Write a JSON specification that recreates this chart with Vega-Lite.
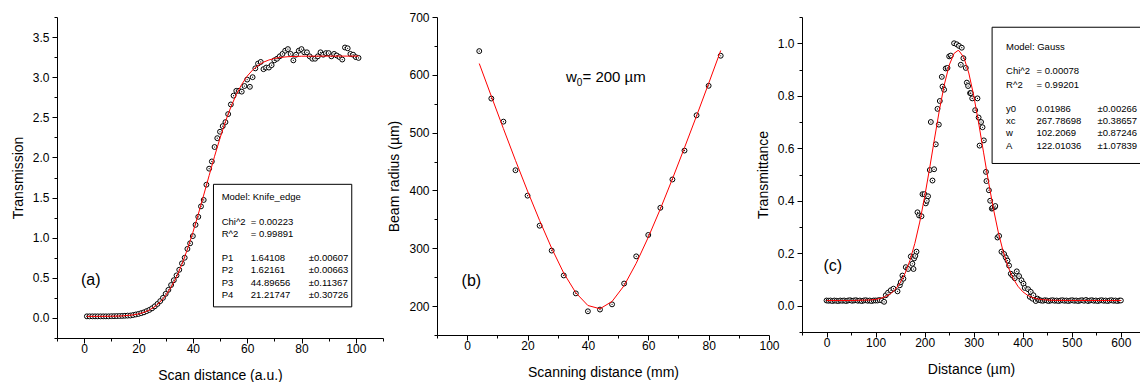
{
"$schema": "https://vega.github.io/schema/vega-lite/v6.json",
"padding": {"left": 11, "top": 11, "right": 0, "bottom": 0},
"bounds": "flush",
"spacing": 54,
"datasets": {
"knife": [{"x":1,"y":0.02},{"x":2,"y":0.02},{"x":3,"y":0.02},{"x":4,"y":0.02},{"x":5,"y":0.02},{"x":6,"y":0.02},{"x":7,"y":0.02},{"x":8,"y":0.02},{"x":9,"y":0.02},{"x":10,"y":0.022},{"x":11,"y":0.022},{"x":12,"y":0.023},{"x":13,"y":0.024},{"x":14,"y":0.025},{"x":15,"y":0.027},{"x":16,"y":0.029},{"x":17,"y":0.03},{"x":18,"y":0.036},{"x":19,"y":0.043},{"x":20,"y":0.05},{"x":21,"y":0.06},{"x":22,"y":0.07},{"x":23,"y":0.085},{"x":24,"y":0.1},{"x":25,"y":0.12},{"x":26,"y":0.145},{"x":27,"y":0.175},{"x":28,"y":0.21},{"x":29,"y":0.25},{"x":30,"y":0.3},{"x":31,"y":0.35},{"x":32,"y":0.41},{"x":33,"y":0.47},{"x":34,"y":0.53},{"x":35,"y":0.6},{"x":36,"y":0.68},{"x":37,"y":0.75},{"x":38,"y":0.86},{"x":39,"y":0.93},{"x":40,"y":1.02},{"x":41,"y":1.16},{"x":42,"y":1.26},{"x":43,"y":1.39},{"x":44,"y":1.47},{"x":45,"y":1.66},{"x":46,"y":1.86},{"x":47,"y":1.95},{"x":48,"y":2.13},{"x":49,"y":2.24},{"x":50,"y":2.32},{"x":51,"y":2.39},{"x":52,"y":2.44},{"x":53,"y":2.54},{"x":54,"y":2.66},{"x":55,"y":2.77},{"x":56,"y":2.83},{"x":57,"y":2.83},{"x":58,"y":2.82},{"x":59,"y":2.89},{"x":60,"y":2.97},{"x":61,"y":2.88},{"x":62,"y":3.0},{"x":63,"y":3.11},{"x":64,"y":3.17},{"x":65,"y":3.19},{"x":66,"y":3.1},{"x":67,"y":3.12},{"x":68,"y":3.12},{"x":69,"y":3.15},{"x":70,"y":3.21},{"x":71,"y":3.23},{"x":72,"y":3.26},{"x":73,"y":3.29},{"x":74,"y":3.33},{"x":75,"y":3.35},{"x":76,"y":3.29},{"x":77,"y":3.21},{"x":78,"y":3.28},{"x":79,"y":3.33},{"x":80,"y":3.35},{"x":81,"y":3.31},{"x":82,"y":3.31},{"x":83,"y":3.26},{"x":84,"y":3.23},{"x":85,"y":3.23},{"x":86,"y":3.26},{"x":87,"y":3.31},{"x":88,"y":3.28},{"x":89,"y":3.3},{"x":90,"y":3.3},{"x":91,"y":3.26},{"x":92,"y":3.29},{"x":93,"y":3.27},{"x":94,"y":3.25},{"x":95,"y":3.22},{"x":96,"y":3.37},{"x":97,"y":3.36},{"x":98,"y":3.29},{"x":99,"y":3.28},{"x":100,"y":3.25},{"x":101,"y":3.24}],
"knifeFit": [{"x":1,"y":0.0195},{"x":5,"y":0.0197},{"x":10,"y":0.0212},{"x":14,"y":0.0251},{"x":18,"y":0.0376},{"x":20,"y":0.0501},{"x":22,"y":0.069},{"x":24,"y":0.0985},{"x":26,"y":0.1406},{"x":28,"y":0.1993},{"x":30,"y":0.279},{"x":32,"y":0.3825},{"x":34,"y":0.5115},{"x":36,"y":0.6706},{"x":38,"y":0.855},{"x":40,"y":1.0635},{"x":42,"y":1.292},{"x":44,"y":1.531},{"x":46,"y":1.7743},{"x":48,"y":2.0145},{"x":50,"y":2.24},{"x":52,"y":2.4463},{"x":54,"y":2.6282},{"x":56,"y":2.7838},{"x":58,"y":2.9104},{"x":60,"y":3.0127},{"x":62,"y":3.0893},{"x":64,"y":3.1459},{"x":66,"y":3.187},{"x":68,"y":3.2143},{"x":70,"y":3.233},{"x":72,"y":3.2454},{"x":75,"y":3.2553},{"x":80,"y":3.2611},{"x":85,"y":3.2624},{"x":90,"y":3.2627},{"x":101,"y":3.2627}],
"beam": [{"x":4,"y":641},{"x":8,"y":559},{"x":12,"y":519},{"x":16,"y":435},{"x":20,"y":391},{"x":24,"y":339},{"x":28,"y":296},{"x":32,"y":253},{"x":36,"y":222},{"x":40,"y":191},{"x":44,"y":194},{"x":48,"y":203},{"x":52,"y":239},{"x":56,"y":286},{"x":60,"y":323},{"x":64,"y":370},{"x":68,"y":419},{"x":72,"y":469},{"x":76,"y":530},{"x":80,"y":581},{"x":84,"y":633}],
"beamFit": [{"x":4,"y":619.5},{"x":8,"y":563},{"x":12,"y":507},{"x":16,"y":452},{"x":20,"y":399},{"x":24,"y":348},{"x":28,"y":300},{"x":32,"y":257},{"x":36,"y":223},{"x":40,"y":201},{"x":44,"y":195.4},{"x":48,"y":208},{"x":52,"y":235.5},{"x":56,"y":274},{"x":60,"y":319},{"x":64,"y":368},{"x":68,"y":420},{"x":72,"y":474},{"x":76,"y":529},{"x":80,"y":585},{"x":84,"y":642}],
"gauss": [{"x":0,"y":0.02},{"x":4,"y":0.019},{"x":8,"y":0.02},{"x":12,"y":0.018},{"x":16,"y":0.02},{"x":20,"y":0.019},{"x":24,"y":0.018},{"x":28,"y":0.02},{"x":32,"y":0.019},{"x":36,"y":0.02},{"x":40,"y":0.018},{"x":44,"y":0.02},{"x":48,"y":0.021},{"x":52,"y":0.019},{"x":56,"y":0.02},{"x":60,"y":0.021},{"x":64,"y":0.019},{"x":68,"y":0.02},{"x":72,"y":0.018},{"x":76,"y":0.02},{"x":80,"y":0.021},{"x":84,"y":0.019},{"x":88,"y":0.02},{"x":92,"y":0.018},{"x":96,"y":0.02},{"x":100,"y":0.02},{"x":104,"y":0.02},{"x":108,"y":0.022},{"x":113,"y":0.02},{"x":117.4,"y":0.015},{"x":120.8,"y":0.04},{"x":125.5,"y":0.05},{"x":131,"y":0.059},{"x":136.5,"y":0.065},{"x":144.7,"y":0.055},{"x":149.4,"y":0.078},{"x":151.4,"y":0.09},{"x":154.7,"y":0.115},{"x":156.7,"y":0.103},{"x":161.6,"y":0.147},{"x":166.3,"y":0.14},{"x":171.8,"y":0.188},{"x":175,"y":0.16},{"x":177.3,"y":0.14},{"x":178.5,"y":0.18},{"x":181,"y":0.19},{"x":183.4,"y":0.206},{"x":185.4,"y":0.356},{"x":188.7,"y":0.344},{"x":193.6,"y":0.341},{"x":195.6,"y":0.425},{"x":199.6,"y":0.425},{"x":202.4,"y":0.39},{"x":204.4,"y":0.4},{"x":207,"y":0.417},{"x":210.5,"y":0.517},{"x":212.6,"y":0.7},{"x":216,"y":0.477},{"x":219.3,"y":0.52},{"x":222.7,"y":0.615},{"x":226.2,"y":0.75},{"x":228.9,"y":0.69},{"x":230.9,"y":0.78},{"x":235,"y":0.872},{"x":236.4,"y":0.835},{"x":239.7,"y":0.823},{"x":243,"y":0.904},{"x":246.6,"y":0.906},{"x":250,"y":0.95},{"x":253.3,"y":0.953},{"x":260,"y":1.0},{"x":265.5,"y":0.996},{"x":270,"y":0.99},{"x":273.7,"y":0.918},{"x":275.7,"y":0.983},{"x":279,"y":0.943},{"x":283.9,"y":0.906},{"x":286,"y":0.85},{"x":288.6,"y":0.837},{"x":292.6,"y":0.81},{"x":294,"y":0.81},{"x":297,"y":0.79},{"x":303,"y":0.745},{"x":307.7,"y":0.79},{"x":310,"y":0.717},{"x":312,"y":0.61},{"x":315,"y":0.7},{"x":318,"y":0.68},{"x":320.7,"y":0.63},{"x":325,"y":0.51},{"x":326,"y":0.475},{"x":331,"y":0.44},{"x":333.6,"y":0.4},{"x":337,"y":0.37},{"x":338.3,"y":0.373},{"x":343,"y":0.376},{"x":344,"y":0.38},{"x":348.5,"y":0.26},{"x":351.8,"y":0.266},{"x":356.6,"y":0.206},{"x":362,"y":0.197},{"x":365.4,"y":0.184},{"x":368.9,"y":0.172},{"x":372.1,"y":0.153},{"x":375.6,"y":0.122},{"x":379,"y":0.115},{"x":383.7,"y":0.105},{"x":387.8,"y":0.131},{"x":392.5,"y":0.113},{"x":397.4,"y":0.097},{"x":401.5,"y":0.084},{"x":404.1,"y":0.068},{"x":410.9,"y":0.063},{"x":414.3,"y":0.034},{"x":416.3,"y":0.053},{"x":419.8,"y":0.027},{"x":421.8,"y":0.04},{"x":426.5,"y":0.018},{"x":430,"y":0.027},{"x":433.3,"y":0.022},{"x":437,"y":0.02},{"x":441,"y":0.019},{"x":445,"y":0.021},{"x":449,"y":0.02},{"x":453,"y":0.018},{"x":457,"y":0.02},{"x":461,"y":0.021},{"x":465,"y":0.019},{"x":469,"y":0.02},{"x":473,"y":0.018},{"x":477,"y":0.02},{"x":481,"y":0.021},{"x":485,"y":0.019},{"x":489,"y":0.02},{"x":493,"y":0.018},{"x":497,"y":0.02},{"x":501,"y":0.021},{"x":505,"y":0.019},{"x":509,"y":0.02},{"x":513,"y":0.018},{"x":517,"y":0.02},{"x":521,"y":0.021},{"x":525,"y":0.019},{"x":529,"y":0.022},{"x":533,"y":0.018},{"x":537,"y":0.02},{"x":541,"y":0.021},{"x":545,"y":0.019},{"x":549,"y":0.02},{"x":553,"y":0.018},{"x":557,"y":0.02},{"x":561,"y":0.021},{"x":565,"y":0.019},{"x":569,"y":0.02},{"x":573,"y":0.018},{"x":577,"y":0.02},{"x":581,"y":0.021},{"x":585,"y":0.019},{"x":589,"y":0.02},{"x":593,"y":0.018},{"x":597,"y":0.02},{"x":600,"y":0.02}],
"gaussFit": [{"x":0,"y":0.0199},{"x":50,"y":0.0199},{"x":90,"y":0.0221},{"x":100,"y":0.0242},{"x":110,"y":0.028},{"x":120,"y":0.0345},{"x":130,"y":0.045},{"x":140,"y":0.0617},{"x":150,"y":0.0868},{"x":160,"y":0.1229},{"x":170,"y":0.1725},{"x":180,"y":0.2376},{"x":190,"y":0.3188},{"x":200,"y":0.415},{"x":210,"y":0.5223},{"x":220,"y":0.6349},{"x":230,"y":0.7444},{"x":240,"y":0.8413},{"x":250,"y":0.9163},{"x":260,"y":0.9613},{"x":268,"y":0.9724},{"x":270,"y":0.9716},{"x":280,"y":0.9456},{"x":290,"y":0.8867},{"x":300,"y":0.8009},{"x":310,"y":0.6972},{"x":320,"y":0.5852},{"x":330,"y":0.4741},{"x":340,"y":0.371},{"x":350,"y":0.2812},{"x":360,"y":0.207},{"x":370,"y":0.1488},{"x":380,"y":0.1054},{"x":390,"y":0.0745},{"x":400,"y":0.0534},{"x":410,"y":0.0397},{"x":420,"y":0.0312},{"x":430,"y":0.0261},{"x":440,"y":0.0232},{"x":460,"y":0.0207},{"x":500,"y":0.0199},{"x":600,"y":0.0199}]
},
"hconcat": [
{
"width": 326, "height": 321,
"layer": [
{"data": {"name": "knife"}, "mark": {"type": "point", "shape": "circle", "size": 24, "filled": true, "fill": "white", "stroke": "black", "strokeWidth": 1, "opacity": 1},
 "encoding": {
"x": {"field": "x", "type": "quantitative", "scale": {"domain": [-10, 110], "nice": false, "zero": false}, "axis": {"title": "Scan distance (a.u.)", "values": [-10,0,10,20,30,40,50,60,70,80,90,100,110], "format": "d", "labelExpr": "datum.value % 20 == 0 && datum.value >= 0 && datum.value <= 100 ? datum.label : ''", "tickSize": {"condition": {"test": "datum.value % 20 == 0", "value": 5}, "value": 3}}},
"y": {"field": "y", "type": "quantitative", "scale": {"domain": [-0.25, 3.75], "nice": false, "zero": false}, "axis": {"title": "Transmission", "values": [-0.25,0,0.25,0.5,0.75,1,1.25,1.5,1.75,2,2.25,2.5,2.75,3,3.25,3.5,3.75], "format": ".1f", "labelExpr": "abs(round(datum.value*4)) % 2 == 0 && datum.value >= 0 && datum.value <= 3.5 ? datum.label : ''", "tickSize": {"condition": {"test": "abs(round(datum.value*4)) % 2 == 0", "value": 5}, "value": 3}}}}},
{"data": {"name": "knife"}, "mark": {"type": "point", "shape": "circle", "size": 1.5, "filled": true, "color": "black", "opacity": 1},
 "encoding": {
"x": {"field": "x", "type": "quantitative", "axis": {"title": "Scan distance (a.u.)", "values": [-10,0,10,20,30,40,50,60,70,80,90,100,110], "format": "d", "labelExpr": "datum.value % 20 == 0 && datum.value >= 0 && datum.value <= 100 ? datum.label : ''", "tickSize": {"condition": {"test": "datum.value % 20 == 0", "value": 5}, "value": 3}}},
"y": {"field": "y", "type": "quantitative", "axis": {"title": "Transmission", "values": [-0.25,0,0.25,0.5,0.75,1,1.25,1.5,1.75,2,2.25,2.5,2.75,3,3.25,3.5,3.75], "format": ".1f", "labelExpr": "abs(round(datum.value*4)) % 2 == 0 && datum.value >= 0 && datum.value <= 3.5 ? datum.label : ''", "tickSize": {"condition": {"test": "abs(round(datum.value*4)) % 2 == 0", "value": 5}, "value": 3}}}}},
{"data": {"name": "knifeFit"}, "mark": {"type": "line", "color": "#ff0000", "strokeWidth": 1},
 "encoding": {
"x": {"field": "x", "type": "quantitative", "axis": {"title": "Scan distance (a.u.)", "values": [-10,0,10,20,30,40,50,60,70,80,90,100,110], "format": "d", "labelExpr": "datum.value % 20 == 0 && datum.value >= 0 && datum.value <= 100 ? datum.label : ''", "tickSize": {"condition": {"test": "datum.value % 20 == 0", "value": 5}, "value": 3}}},
"y": {"field": "y", "type": "quantitative", "axis": {"title": "Transmission", "values": [-0.25,0,0.25,0.5,0.75,1,1.25,1.5,1.75,2,2.25,2.5,2.75,3,3.25,3.5,3.75], "format": ".1f", "labelExpr": "abs(round(datum.value*4)) % 2 == 0 && datum.value >= 0 && datum.value <= 3.5 ? datum.label : ''", "tickSize": {"condition": {"test": "abs(round(datum.value*4)) % 2 == 0", "value": 5}, "value": 3}}}}},
{"data": {"values": [{}]}, "mark": {"type": "rect", "fill": "white", "stroke": "black", "strokeWidth": 1},
 "encoding": {
"x": {"datum": 47.6, "type": "quantitative", "axis": {"title": "Scan distance (a.u.)", "values": [-10,0,10,20,30,40,50,60,70,80,90,100,110], "format": "d", "labelExpr": "datum.value % 20 == 0 && datum.value >= 0 && datum.value <= 100 ? datum.label : ''", "tickSize": {"condition": {"test": "datum.value % 20 == 0", "value": 5}, "value": 3}}},
"x2": {"datum": 98.5},
"y": {"datum": 0.138, "type": "quantitative", "axis": {"title": "Transmission", "values": [-0.25,0,0.25,0.5,0.75,1,1.25,1.5,1.75,2,2.25,2.5,2.75,3,3.25,3.5,3.75], "format": ".1f", "labelExpr": "abs(round(datum.value*4)) % 2 == 0 && datum.value >= 0 && datum.value <= 3.5 ? datum.label : ''", "tickSize": {"condition": {"test": "abs(round(datum.value*4)) % 2 == 0", "value": 5}, "value": 3}}},
"y2": {"datum": 1.665}}},
{"data": {"values": [{}]}, "mark": {"type": "text", "align": "left", "baseline": "alphabetic", "font": "Liberation Sans Narrow, Arial Narrow, Liberation Sans", "fontSize": 9.5, "color": "black", "text": "Model: Knife_edge"},
 "encoding": {
"x": {"datum": 50.6, "type": "quantitative", "axis": {"title": "Scan distance (a.u.)", "values": [-10,0,10,20,30,40,50,60,70,80,90,100,110], "format": "d", "labelExpr": "datum.value % 20 == 0 && datum.value >= 0 && datum.value <= 100 ? datum.label : ''", "tickSize": {"condition": {"test": "datum.value % 20 == 0", "value": 5}, "value": 3}}},
"y": {"datum": 1.466, "type": "quantitative", "axis": {"title": "Transmission", "values": [-0.25,0,0.25,0.5,0.75,1,1.25,1.5,1.75,2,2.25,2.5,2.75,3,3.25,3.5,3.75], "format": ".1f", "labelExpr": "abs(round(datum.value*4)) % 2 == 0 && datum.value >= 0 && datum.value <= 3.5 ? datum.label : ''", "tickSize": {"condition": {"test": "abs(round(datum.value*4)) % 2 == 0", "value": 5}, "value": 3}}}}},
{"data": {"values": [{}]}, "mark": {"type": "text", "align": "left", "baseline": "alphabetic", "font": "Liberation Sans Narrow, Arial Narrow, Liberation Sans", "fontSize": 9.5, "lineHeight": 11.7, "color": "black", "text": ["Chi^2", "R^2"]},
 "encoding": {
"x": {"datum": 50.6, "type": "quantitative", "axis": {"title": "Scan distance (a.u.)", "values": [-10,0,10,20,30,40,50,60,70,80,90,100,110], "format": "d", "labelExpr": "datum.value % 20 == 0 && datum.value >= 0 && datum.value <= 100 ? datum.label : ''", "tickSize": {"condition": {"test": "datum.value % 20 == 0", "value": 5}, "value": 3}}},
"y": {"datum": 1.16, "type": "quantitative", "axis": {"title": "Transmission", "values": [-0.25,0,0.25,0.5,0.75,1,1.25,1.5,1.75,2,2.25,2.5,2.75,3,3.25,3.5,3.75], "format": ".1f", "labelExpr": "abs(round(datum.value*4)) % 2 == 0 && datum.value >= 0 && datum.value <= 3.5 ? datum.label : ''", "tickSize": {"condition": {"test": "abs(round(datum.value*4)) % 2 == 0", "value": 5}, "value": 3}}}}},
{"data": {"values": [{}]}, "mark": {"type": "text", "align": "left", "baseline": "alphabetic", "font": "Liberation Sans Narrow, Arial Narrow, Liberation Sans", "fontSize": 9.5, "lineHeight": 11.7, "color": "black", "text": ["= 0.00223", "= 0.99891"]},
 "encoding": {
"x": {"datum": 61.3, "type": "quantitative", "axis": {"title": "Scan distance (a.u.)", "values": [-10,0,10,20,30,40,50,60,70,80,90,100,110], "format": "d", "labelExpr": "datum.value % 20 == 0 && datum.value >= 0 && datum.value <= 100 ? datum.label : ''", "tickSize": {"condition": {"test": "datum.value % 20 == 0", "value": 5}, "value": 3}}},
"y": {"datum": 1.16, "type": "quantitative", "axis": {"title": "Transmission", "values": [-0.25,0,0.25,0.5,0.75,1,1.25,1.5,1.75,2,2.25,2.5,2.75,3,3.25,3.5,3.75], "format": ".1f", "labelExpr": "abs(round(datum.value*4)) % 2 == 0 && datum.value >= 0 && datum.value <= 3.5 ? datum.label : ''", "tickSize": {"condition": {"test": "abs(round(datum.value*4)) % 2 == 0", "value": 5}, "value": 3}}}}},
{"data": {"values": [{}]}, "mark": {"type": "text", "align": "left", "baseline": "alphabetic", "font": "Liberation Sans Narrow, Arial Narrow, Liberation Sans", "fontSize": 9.5, "lineHeight": 12.3, "color": "black", "text": ["P1", "P2", "P3", "P4"]},
 "encoding": {
"x": {"datum": 50.6, "type": "quantitative", "axis": {"title": "Scan distance (a.u.)", "values": [-10,0,10,20,30,40,50,60,70,80,90,100,110], "format": "d", "labelExpr": "datum.value % 20 == 0 && datum.value >= 0 && datum.value <= 100 ? datum.label : ''", "tickSize": {"condition": {"test": "datum.value % 20 == 0", "value": 5}, "value": 3}}},
"y": {"datum": 0.708, "type": "quantitative", "axis": {"title": "Transmission", "values": [-0.25,0,0.25,0.5,0.75,1,1.25,1.5,1.75,2,2.25,2.5,2.75,3,3.25,3.5,3.75], "format": ".1f", "labelExpr": "abs(round(datum.value*4)) % 2 == 0 && datum.value >= 0 && datum.value <= 3.5 ? datum.label : ''", "tickSize": {"condition": {"test": "abs(round(datum.value*4)) % 2 == 0", "value": 5}, "value": 3}}}}},
{"data": {"values": [{}]}, "mark": {"type": "text", "align": "left", "baseline": "alphabetic", "font": "Liberation Sans Narrow, Arial Narrow, Liberation Sans", "fontSize": 9.5, "lineHeight": 12.3, "color": "black", "text": ["1.64108", "1.62161", "44.89656", "21.21747"]},
 "encoding": {
"x": {"datum": 61.3, "type": "quantitative", "axis": {"title": "Scan distance (a.u.)", "values": [-10,0,10,20,30,40,50,60,70,80,90,100,110], "format": "d", "labelExpr": "datum.value % 20 == 0 && datum.value >= 0 && datum.value <= 100 ? datum.label : ''", "tickSize": {"condition": {"test": "datum.value % 20 == 0", "value": 5}, "value": 3}}},
"y": {"datum": 0.708, "type": "quantitative", "axis": {"title": "Transmission", "values": [-0.25,0,0.25,0.5,0.75,1,1.25,1.5,1.75,2,2.25,2.5,2.75,3,3.25,3.5,3.75], "format": ".1f", "labelExpr": "abs(round(datum.value*4)) % 2 == 0 && datum.value >= 0 && datum.value <= 3.5 ? datum.label : ''", "tickSize": {"condition": {"test": "abs(round(datum.value*4)) % 2 == 0", "value": 5}, "value": 3}}}}},
{"data": {"values": [{}]}, "mark": {"type": "text", "align": "left", "baseline": "alphabetic", "font": "Liberation Sans Narrow, Arial Narrow, Liberation Sans", "fontSize": 9.5, "lineHeight": 12.3, "color": "black", "text": ["±0.00607", "±0.00663", "±0.11367", "±0.30726"]},
 "encoding": {
"x": {"datum": 82.7, "type": "quantitative", "axis": {"title": "Scan distance (a.u.)", "values": [-10,0,10,20,30,40,50,60,70,80,90,100,110], "format": "d", "labelExpr": "datum.value % 20 == 0 && datum.value >= 0 && datum.value <= 100 ? datum.label : ''", "tickSize": {"condition": {"test": "datum.value % 20 == 0", "value": 5}, "value": 3}}},
"y": {"datum": 0.708, "type": "quantitative", "axis": {"title": "Transmission", "values": [-0.25,0,0.25,0.5,0.75,1,1.25,1.5,1.75,2,2.25,2.5,2.75,3,3.25,3.5,3.75], "format": ".1f", "labelExpr": "abs(round(datum.value*4)) % 2 == 0 && datum.value >= 0 && datum.value <= 3.5 ? datum.label : ''", "tickSize": {"condition": {"test": "abs(round(datum.value*4)) % 2 == 0", "value": 5}, "value": 3}}}}},
{"data": {"values": [{}]}, "mark": {"type": "text", "text": "(a)", "align": "left", "baseline": "middle", "fontSize": 16, "color": "black"},
 "encoding": {
"x": {"datum": -1.2, "type": "quantitative", "axis": {"title": "Scan distance (a.u.)", "values": [-10,0,10,20,30,40,50,60,70,80,90,100,110], "format": "d", "labelExpr": "datum.value % 20 == 0 && datum.value >= 0 && datum.value <= 100 ? datum.label : ''", "tickSize": {"condition": {"test": "datum.value % 20 == 0", "value": 5}, "value": 3}}},
"y": {"datum": 0.47, "type": "quantitative", "axis": {"title": "Transmission", "values": [-0.25,0,0.25,0.5,0.75,1,1.25,1.5,1.75,2,2.25,2.5,2.75,3,3.25,3.5,3.75], "format": ".1f", "labelExpr": "abs(round(datum.value*4)) % 2 == 0 && datum.value >= 0 && datum.value <= 3.5 ? datum.label : ''", "tickSize": {"condition": {"test": "abs(round(datum.value*4)) % 2 == 0", "value": 5}, "value": 3}}}}}
]
},
{
"bounds": "flush",
"spacing": 33,
"hconcat": [
{
"width": 332, "height": 318,
"layer": [
{"data": {"name": "beam"}, "mark": {"type": "point", "shape": "circle", "size": 24, "filled": true, "fill": "white", "stroke": "black", "strokeWidth": 1, "opacity": 1},
 "encoding": {
"x": {"field": "x", "type": "quantitative", "scale": {"domain": [-10, 100], "nice": false, "zero": false}, "axis": {"title": "Scanning distance (mm)", "values": [-10,0,10,20,30,40,50,60,70,80,90,100], "format": "d", "labelExpr": "datum.value % 20 == 0 && datum.value >= 0 ? datum.label : ''", "tickSize": {"condition": {"test": "datum.value % 20 == 0", "value": 5}, "value": 3}}},
"y": {"field": "y", "type": "quantitative", "scale": {"domain": [150, 700], "nice": false, "zero": false}, "axis": {"title": "Beam radius (µm)", "values": [150,200,250,300,350,400,450,500,550,600,650,700], "format": "d", "labelExpr": "datum.value % 100 == 0 ? datum.label : ''", "tickSize": {"condition": {"test": "datum.value % 100 == 0", "value": 5}, "value": 3}}}}},
{"data": {"name": "beam"}, "mark": {"type": "point", "shape": "circle", "size": 1.5, "filled": true, "color": "black", "opacity": 1},
 "encoding": {
"x": {"field": "x", "type": "quantitative", "axis": {"title": "Scanning distance (mm)", "values": [-10,0,10,20,30,40,50,60,70,80,90,100], "format": "d", "labelExpr": "datum.value % 20 == 0 && datum.value >= 0 ? datum.label : ''", "tickSize": {"condition": {"test": "datum.value % 20 == 0", "value": 5}, "value": 3}}},
"y": {"field": "y", "type": "quantitative", "axis": {"title": "Beam radius (µm)", "values": [150,200,250,300,350,400,450,500,550,600,650,700], "format": "d", "labelExpr": "datum.value % 100 == 0 ? datum.label : ''", "tickSize": {"condition": {"test": "datum.value % 100 == 0", "value": 5}, "value": 3}}}}},
{"data": {"name": "beamFit"}, "mark": {"type": "line", "color": "#ff0000", "strokeWidth": 1},
 "encoding": {
"x": {"field": "x", "type": "quantitative", "axis": {"title": "Scanning distance (mm)", "values": [-10,0,10,20,30,40,50,60,70,80,90,100], "format": "d", "labelExpr": "datum.value % 20 == 0 && datum.value >= 0 ? datum.label : ''", "tickSize": {"condition": {"test": "datum.value % 20 == 0", "value": 5}, "value": 3}}},
"y": {"field": "y", "type": "quantitative", "axis": {"title": "Beam radius (µm)", "values": [150,200,250,300,350,400,450,500,550,600,650,700], "format": "d", "labelExpr": "datum.value % 100 == 0 ? datum.label : ''", "tickSize": {"condition": {"test": "datum.value % 100 == 0", "value": 5}, "value": 3}}}}},
{"data": {"values": [{}]}, "mark": {"type": "text", "text": "w", "align": "left", "baseline": "middle", "fontSize": 15, "color": "black"},
 "encoding": {
"x": {"datum": 32.7, "type": "quantitative", "axis": {"title": "Scanning distance (mm)", "values": [-10,0,10,20,30,40,50,60,70,80,90,100], "format": "d", "labelExpr": "datum.value % 20 == 0 && datum.value >= 0 ? datum.label : ''", "tickSize": {"condition": {"test": "datum.value % 20 == 0", "value": 5}, "value": 3}}},
"y": {"datum": 596, "type": "quantitative", "axis": {"title": "Beam radius (µm)", "values": [150,200,250,300,350,400,450,500,550,600,650,700], "format": "d", "labelExpr": "datum.value % 100 == 0 ? datum.label : ''", "tickSize": {"condition": {"test": "datum.value % 100 == 0", "value": 5}, "value": 3}}}}},
{"data": {"values": [{}]}, "mark": {"type": "text", "text": "0", "align": "left", "baseline": "middle", "fontSize": 10, "color": "black"},
 "encoding": {
"x": {"datum": 36.3, "type": "quantitative", "axis": {"title": "Scanning distance (mm)", "values": [-10,0,10,20,30,40,50,60,70,80,90,100], "format": "d", "labelExpr": "datum.value % 20 == 0 && datum.value >= 0 ? datum.label : ''", "tickSize": {"condition": {"test": "datum.value % 20 == 0", "value": 5}, "value": 3}}},
"y": {"datum": 585, "type": "quantitative", "axis": {"title": "Beam radius (µm)", "values": [150,200,250,300,350,400,450,500,550,600,650,700], "format": "d", "labelExpr": "datum.value % 100 == 0 ? datum.label : ''", "tickSize": {"condition": {"test": "datum.value % 100 == 0", "value": 5}, "value": 3}}}}},
{"data": {"values": [{}]}, "mark": {"type": "text", "text": "= 200 µm", "align": "left", "baseline": "middle", "fontSize": 15, "color": "black"},
 "encoding": {
"x": {"datum": 38.2, "type": "quantitative", "axis": {"title": "Scanning distance (mm)", "values": [-10,0,10,20,30,40,50,60,70,80,90,100], "format": "d", "labelExpr": "datum.value % 20 == 0 && datum.value >= 0 ? datum.label : ''", "tickSize": {"condition": {"test": "datum.value % 20 == 0", "value": 5}, "value": 3}}},
"y": {"datum": 596, "type": "quantitative", "axis": {"title": "Beam radius (µm)", "values": [150,200,250,300,350,400,450,500,550,600,650,700], "format": "d", "labelExpr": "datum.value % 100 == 0 ? datum.label : ''", "tickSize": {"condition": {"test": "datum.value % 100 == 0", "value": 5}, "value": 3}}}}},
{"data": {"values": [{}]}, "mark": {"type": "text", "text": "(b)", "align": "left", "baseline": "middle", "fontSize": 16, "color": "black"},
 "encoding": {
"x": {"datum": -1.85, "type": "quantitative", "axis": {"title": "Scanning distance (mm)", "values": [-10,0,10,20,30,40,50,60,70,80,90,100], "format": "d", "labelExpr": "datum.value % 20 == 0 && datum.value >= 0 ? datum.label : ''", "tickSize": {"condition": {"test": "datum.value % 20 == 0", "value": 5}, "value": 3}}},
"y": {"datum": 244, "type": "quantitative", "axis": {"title": "Beam radius (µm)", "values": [150,200,250,300,350,400,450,500,550,600,650,700], "format": "d", "labelExpr": "datum.value % 100 == 0 ? datum.label : ''", "tickSize": {"condition": {"test": "datum.value % 100 == 0", "value": 5}, "value": 3}}}}}
]
},
{
"width": 338, "height": 315,
"layer": [
{"data": {"name": "gauss"}, "mark": {"type": "point", "shape": "circle", "size": 24, "filled": true, "fill": "white", "stroke": "black", "strokeWidth": 1, "opacity": 1},
 "encoding": {
"x": {"field": "x", "type": "quantitative", "scale": {"domain": [-50, 639], "nice": false, "zero": false}, "axis": {"title": "Distance (µm)", "values": [-50,0,50,100,150,200,250,300,350,400,450,500,550,600], "format": "d", "labelExpr": "datum.value % 100 == 0 && datum.value >= 0 ? datum.label : ''", "tickSize": {"condition": {"test": "datum.value % 100 == 0", "value": 5}, "value": 3}}},
"y": {"field": "y", "type": "quantitative", "scale": {"domain": [-0.1, 1.1], "nice": false, "zero": false}, "axis": {"title": "Transmittance", "values": [-0.1,0,0.1,0.2,0.3,0.4,0.5,0.6,0.7,0.8,0.9,1.0,1.1], "format": ".1f", "labelExpr": "abs(round(datum.value*10)) % 2 == 0 && datum.value >= 0 && datum.value <= 1.01 ? datum.label : ''", "tickSize": {"condition": {"test": "abs(round(datum.value*10)) % 2 == 0", "value": 5}, "value": 3}}}}},
{"data": {"name": "gauss"}, "mark": {"type": "point", "shape": "circle", "size": 1.5, "filled": true, "color": "black", "opacity": 1},
 "encoding": {
"x": {"field": "x", "type": "quantitative", "axis": {"title": "Distance (µm)", "values": [-50,0,50,100,150,200,250,300,350,400,450,500,550,600], "format": "d", "labelExpr": "datum.value % 100 == 0 && datum.value >= 0 ? datum.label : ''", "tickSize": {"condition": {"test": "datum.value % 100 == 0", "value": 5}, "value": 3}}},
"y": {"field": "y", "type": "quantitative", "axis": {"title": "Transmittance", "values": [-0.1,0,0.1,0.2,0.3,0.4,0.5,0.6,0.7,0.8,0.9,1.0,1.1], "format": ".1f", "labelExpr": "abs(round(datum.value*10)) % 2 == 0 && datum.value >= 0 && datum.value <= 1.01 ? datum.label : ''", "tickSize": {"condition": {"test": "abs(round(datum.value*10)) % 2 == 0", "value": 5}, "value": 3}}}}},
{"data": {"name": "gaussFit"}, "mark": {"type": "line", "color": "#ff0000", "strokeWidth": 1},
 "encoding": {
"x": {"field": "x", "type": "quantitative", "axis": {"title": "Distance (µm)", "values": [-50,0,50,100,150,200,250,300,350,400,450,500,550,600], "format": "d", "labelExpr": "datum.value % 100 == 0 && datum.value >= 0 ? datum.label : ''", "tickSize": {"condition": {"test": "datum.value % 100 == 0", "value": 5}, "value": 3}}},
"y": {"field": "y", "type": "quantitative", "axis": {"title": "Transmittance", "values": [-0.1,0,0.1,0.2,0.3,0.4,0.5,0.6,0.7,0.8,0.9,1.0,1.1], "format": ".1f", "labelExpr": "abs(round(datum.value*10)) % 2 == 0 && datum.value >= 0 && datum.value <= 1.01 ? datum.label : ''", "tickSize": {"condition": {"test": "abs(round(datum.value*10)) % 2 == 0", "value": 5}, "value": 3}}}}},
{"data": {"values": [{}]}, "mark": {"type": "rect", "fill": "white", "stroke": "black", "strokeWidth": 1, "clip": true},
 "encoding": {
"x": {"datum": 337.5, "type": "quantitative", "axis": {"title": "Distance (µm)", "values": [-50,0,50,100,150,200,250,300,350,400,450,500,550,600], "format": "d", "labelExpr": "datum.value % 100 == 0 && datum.value >= 0 ? datum.label : ''", "tickSize": {"condition": {"test": "datum.value % 100 == 0", "value": 5}, "value": 3}}},
"x2": {"datum": 660},
"y": {"datum": 0.542, "type": "quantitative", "axis": {"title": "Transmittance", "values": [-0.1,0,0.1,0.2,0.3,0.4,0.5,0.6,0.7,0.8,0.9,1.0,1.1], "format": ".1f", "labelExpr": "abs(round(datum.value*10)) % 2 == 0 && datum.value >= 0 && datum.value <= 1.01 ? datum.label : ''", "tickSize": {"condition": {"test": "abs(round(datum.value*10)) % 2 == 0", "value": 5}, "value": 3}}},
"y2": {"datum": 1.061}}},
{"data": {"values": [{}]}, "mark": {"type": "text", "align": "left", "baseline": "alphabetic", "font": "Liberation Sans Narrow, Arial Narrow, Liberation Sans", "fontSize": 9.5, "color": "black", "text": "Model: Gauss"},
 "encoding": {
"x": {"datum": 366, "type": "quantitative", "axis": {"title": "Distance (µm)", "values": [-50,0,50,100,150,200,250,300,350,400,450,500,550,600], "format": "d", "labelExpr": "datum.value % 100 == 0 && datum.value >= 0 ? datum.label : ''", "tickSize": {"condition": {"test": "datum.value % 100 == 0", "value": 5}, "value": 3}}},
"y": {"datum": 0.976, "type": "quantitative", "axis": {"title": "Transmittance", "values": [-0.1,0,0.1,0.2,0.3,0.4,0.5,0.6,0.7,0.8,0.9,1.0,1.1], "format": ".1f", "labelExpr": "abs(round(datum.value*10)) % 2 == 0 && datum.value >= 0 && datum.value <= 1.01 ? datum.label : ''", "tickSize": {"condition": {"test": "abs(round(datum.value*10)) % 2 == 0", "value": 5}, "value": 3}}}}},
{"data": {"values": [{}]}, "mark": {"type": "text", "align": "left", "baseline": "alphabetic", "font": "Liberation Sans Narrow, Arial Narrow, Liberation Sans", "fontSize": 9.5, "lineHeight": 13.3, "color": "black", "text": ["Chi^2", "R^2"]},
 "encoding": {
"x": {"datum": 366, "type": "quantitative", "axis": {"title": "Distance (µm)", "values": [-50,0,50,100,150,200,250,300,350,400,450,500,550,600], "format": "d", "labelExpr": "datum.value % 100 == 0 && datum.value >= 0 ? datum.label : ''", "tickSize": {"condition": {"test": "datum.value % 100 == 0", "value": 5}, "value": 3}}},
"y": {"datum": 0.882, "type": "quantitative", "axis": {"title": "Transmittance", "values": [-0.1,0,0.1,0.2,0.3,0.4,0.5,0.6,0.7,0.8,0.9,1.0,1.1], "format": ".1f", "labelExpr": "abs(round(datum.value*10)) % 2 == 0 && datum.value >= 0 && datum.value <= 1.01 ? datum.label : ''", "tickSize": {"condition": {"test": "abs(round(datum.value*10)) % 2 == 0", "value": 5}, "value": 3}}}}},
{"data": {"values": [{}]}, "mark": {"type": "text", "align": "left", "baseline": "alphabetic", "font": "Liberation Sans Narrow, Arial Narrow, Liberation Sans", "fontSize": 9.5, "lineHeight": 13.3, "color": "black", "text": ["= 0.00078", "= 0.99201"]},
 "encoding": {
"x": {"datum": 428, "type": "quantitative", "axis": {"title": "Distance (µm)", "values": [-50,0,50,100,150,200,250,300,350,400,450,500,550,600], "format": "d", "labelExpr": "datum.value % 100 == 0 && datum.value >= 0 ? datum.label : ''", "tickSize": {"condition": {"test": "datum.value % 100 == 0", "value": 5}, "value": 3}}},
"y": {"datum": 0.882, "type": "quantitative", "axis": {"title": "Transmittance", "values": [-0.1,0,0.1,0.2,0.3,0.4,0.5,0.6,0.7,0.8,0.9,1.0,1.1], "format": ".1f", "labelExpr": "abs(round(datum.value*10)) % 2 == 0 && datum.value >= 0 && datum.value <= 1.01 ? datum.label : ''", "tickSize": {"condition": {"test": "abs(round(datum.value*10)) % 2 == 0", "value": 5}, "value": 3}}}}},
{"data": {"values": [{}]}, "mark": {"type": "text", "align": "left", "baseline": "alphabetic", "font": "Liberation Sans Narrow, Arial Narrow, Liberation Sans", "fontSize": 9.5, "lineHeight": 12.2, "color": "black", "text": ["y0", "xc", "w", "A"]},
 "encoding": {
"x": {"datum": 366, "type": "quantitative", "axis": {"title": "Distance (µm)", "values": [-50,0,50,100,150,200,250,300,350,400,450,500,550,600], "format": "d", "labelExpr": "datum.value % 100 == 0 && datum.value >= 0 ? datum.label : ''", "tickSize": {"condition": {"test": "datum.value % 100 == 0", "value": 5}, "value": 3}}},
"y": {"datum": 0.738, "type": "quantitative", "axis": {"title": "Transmittance", "values": [-0.1,0,0.1,0.2,0.3,0.4,0.5,0.6,0.7,0.8,0.9,1.0,1.1], "format": ".1f", "labelExpr": "abs(round(datum.value*10)) % 2 == 0 && datum.value >= 0 && datum.value <= 1.01 ? datum.label : ''", "tickSize": {"condition": {"test": "abs(round(datum.value*10)) % 2 == 0", "value": 5}, "value": 3}}}}},
{"data": {"values": [{}]}, "mark": {"type": "text", "align": "left", "baseline": "alphabetic", "font": "Liberation Sans Narrow, Arial Narrow, Liberation Sans", "fontSize": 9.5, "lineHeight": 12.2, "color": "black", "text": ["0.01986", "267.78698", "102.2069", "122.01036"]},
 "encoding": {
"x": {"datum": 428, "type": "quantitative", "axis": {"title": "Distance (µm)", "values": [-50,0,50,100,150,200,250,300,350,400,450,500,550,600], "format": "d", "labelExpr": "datum.value % 100 == 0 && datum.value >= 0 ? datum.label : ''", "tickSize": {"condition": {"test": "datum.value % 100 == 0", "value": 5}, "value": 3}}},
"y": {"datum": 0.738, "type": "quantitative", "axis": {"title": "Transmittance", "values": [-0.1,0,0.1,0.2,0.3,0.4,0.5,0.6,0.7,0.8,0.9,1.0,1.1], "format": ".1f", "labelExpr": "abs(round(datum.value*10)) % 2 == 0 && datum.value >= 0 && datum.value <= 1.01 ? datum.label : ''", "tickSize": {"condition": {"test": "abs(round(datum.value*10)) % 2 == 0", "value": 5}, "value": 3}}}}},
{"data": {"values": [{}]}, "mark": {"type": "text", "align": "left", "baseline": "alphabetic", "font": "Liberation Sans Narrow, Arial Narrow, Liberation Sans", "fontSize": 9.5, "lineHeight": 12.2, "color": "black", "text": ["±0.00266", "±0.38657", "±0.87246", "±1.07839"]},
 "encoding": {
"x": {"datum": 552.3, "type": "quantitative", "axis": {"title": "Distance (µm)", "values": [-50,0,50,100,150,200,250,300,350,400,450,500,550,600], "format": "d", "labelExpr": "datum.value % 100 == 0 && datum.value >= 0 ? datum.label : ''", "tickSize": {"condition": {"test": "datum.value % 100 == 0", "value": 5}, "value": 3}}},
"y": {"datum": 0.738, "type": "quantitative", "axis": {"title": "Transmittance", "values": [-0.1,0,0.1,0.2,0.3,0.4,0.5,0.6,0.7,0.8,0.9,1.0,1.1], "format": ".1f", "labelExpr": "abs(round(datum.value*10)) % 2 == 0 && datum.value >= 0 && datum.value <= 1.01 ? datum.label : ''", "tickSize": {"condition": {"test": "abs(round(datum.value*10)) % 2 == 0", "value": 5}, "value": 3}}}}},
{"data": {"values": [{}]}, "mark": {"type": "text", "text": "(c)", "align": "left", "baseline": "middle", "fontSize": 16, "color": "black"},
 "encoding": {
"x": {"datum": -6.1, "type": "quantitative", "axis": {"title": "Distance (µm)", "values": [-50,0,50,100,150,200,250,300,350,400,450,500,550,600], "format": "d", "labelExpr": "datum.value % 100 == 0 && datum.value >= 0 ? datum.label : ''", "tickSize": {"condition": {"test": "datum.value % 100 == 0", "value": 5}, "value": 3}}},
"y": {"datum": 0.15, "type": "quantitative", "axis": {"title": "Transmittance", "values": [-0.1,0,0.1,0.2,0.3,0.4,0.5,0.6,0.7,0.8,0.9,1.0,1.1], "format": ".1f", "labelExpr": "abs(round(datum.value*10)) % 2 == 0 && datum.value >= 0 && datum.value <= 1.01 ? datum.label : ''", "tickSize": {"condition": {"test": "abs(round(datum.value*10)) % 2 == 0", "value": 5}, "value": 3}}}}}
]
}
]
}
],
"config": {
"view": {"stroke": null},
"font": "Liberation Sans",
"axis": {"grid": false, "domainColor": "black", "domainWidth": 1, "tickColor": "black", "tickWidth": 1, "labelColor": "black", "titleColor": "black",
 "labelFontSize": 12, "titleFontSize": 14, "titleFontWeight": "normal", "labelFlush": false, "labelOverlap": false, "labelPadding": 3, "titlePadding": 7},
"axisX": {"labelPadding": 0, "titlePadding": 14}
}
}
